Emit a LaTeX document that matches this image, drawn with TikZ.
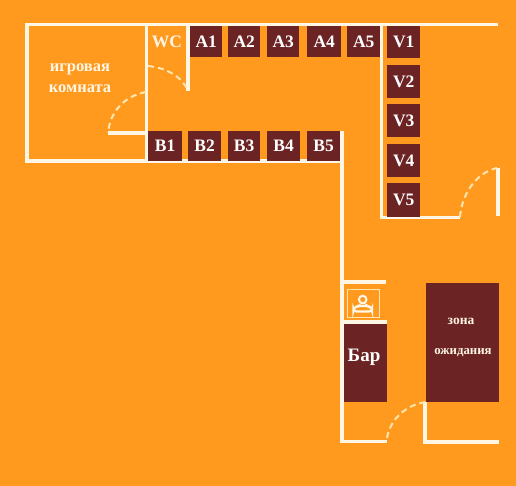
\documentclass[tikz,border=0pt]{standalone}
\usepackage{fontspec}
\setmainfont{Liberation Serif}
\definecolor{bgc}{HTML}{FF9A1F}
\definecolor{boxc}{HTML}{6C2323}
\definecolor{wallc}{HTML}{FFF6E6}
\definecolor{doorc}{HTML}{FFE6B0}
\tikzset{
  wall/.style={draw=wallc,line width=3.4pt,line cap=butt},
  door/.style={draw=doorc,line width=2pt,dash pattern=on 6pt off 4pt},
  tile/.style={fill=boxc,draw=none,text=white,font=\bfseries\fontsize{17.5}{17.5}\selectfont,inner sep=0pt,anchor=north west},
  roomlabel/.style={text=wallc,font=\bfseries\fontsize{16.5}{21}\selectfont,align=center,inner sep=0pt}
}
\begin{document}
\begin{tikzpicture}[x=1pt,y=-1pt]
\fill[bgc] (0,0) rectangle (516,486);
\useasboundingbox (0,0) rectangle (516,486);
% walls
\draw[wall] (146.5,92) -- (146.5,24.5);
\draw[wall] (27,24.5) rectangle (146.5,161);
\draw[wall] (146.5,24.5) -- (498,24.5);
\draw[wall] (188,24.5) -- (188,91);
\draw[wall] (108,133) -- (146.5,133);
\draw[wall] (146.5,161) -- (342,161);
\draw[wall] (342,131) -- (342,442);
\draw[wall] (340.4,441.5) -- (387,441.5);
\draw[wall] (381.5,24.5) -- (381.5,217.5) -- (460,217.5);
\draw[wall] (498,168) -- (498,216.5);
\draw[wall] (342,282) -- (386,282);
\draw[wall] (342,322) -- (387,322);
\draw[wall] (425,402) -- (425,442) -- (499,442);
% doors
\draw[door] (148,66) .. controls (168,68) and (183,78) .. (188,91);
\draw[door] (146,92) .. controls (124,96) and (110,112) .. (108,133);
\draw[door] (460,217) .. controls (462,192) and (478,172) .. (497,168);
\draw[door] (387,438) .. controls (390,420) and (405,405) .. (426,402);
% tiles
\foreach \n/\x/\w in {A1/190/32,A2/228/32,A3/267/32,A4/307/34,A5/347/33}
  \node[tile,minimum width=\w pt,minimum height=31pt] (\n) at (\x,26) {\n};
\foreach \n/\x/\w in {B1/148/34,B2/188/33,B3/228/32,B4/267/33,B5/307/33}
  \node[tile,minimum width=\w pt,minimum height=30pt] (\n) at (\x,131) {\n};
\foreach \n/\y/\h in {V1/26/32,V2/65/33,V3/104/33,V4/144/33,V5/183/34}
  \node[tile,minimum width=33pt,minimum height=\h pt] (\n) at (387,\y) {\n};
\node[tile,minimum width=43pt,minimum height=78pt] (bar) at (344,324) {};
\node[text=white,font=\bfseries\fontsize{19}{19}\selectfont,inner sep=0pt] (barlabel) at (364,357) {Бар};
\node[tile,minimum width=73pt,minimum height=119pt] (wait) at (426,283) {};
\node[roomlabel,font=\bfseries\fontsize{13.5}{13.5}\selectfont] (zona) at (461,321) {зона};
\node[roomlabel,font=\bfseries\fontsize{12.8}{12.8}\selectfont] (ozh) at (463,353) {ожидания};
\node[roomlabel] (game) at (80,78) {игровая\\комната};
\node[roomlabel,font=\bfseries\fontsize{17.5}{17.5}\selectfont] (wc) at (167,42) {WC};
% icon
\draw[doorc,line width=0.7pt] (347,289.5) rectangle (379,317);
\draw[wallc,line width=2pt] (362.7,299.5) circle (3.8);
\draw[wallc,line width=2.2pt,rounded corners=3pt] (353.5,311.5) -- (353.5,308) -- (358,306) -- (368,306) -- (372,308) -- (372,311.5) -- cycle;
\end{tikzpicture}
\end{document}
